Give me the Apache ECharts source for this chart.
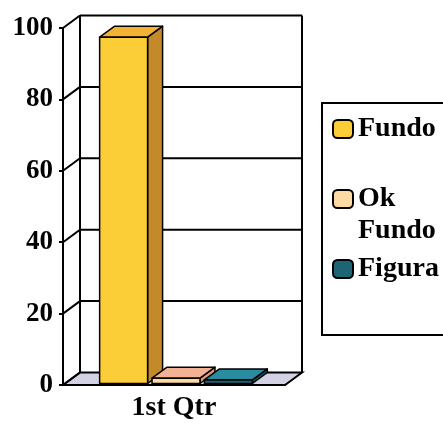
<!DOCTYPE html>
<html><head><meta charset="utf-8">
<script src="https://cdn.jsdelivr.net/npm/echarts@6/dist/echarts.min.js"></script>
<style>html,body{margin:0;padding:0;background:#fff}#c{width:443px;height:424px}</style>
</head><body><div id="c"></div>
<script>
const categories = ['1st Qtr'];
const seriesNames = ['Fundo', 'Ok Fundo', 'Figura'];
const fundoValues = [97];
const okFundoValues = [1.5];
const figuraValues = [1];
const yTicks = [0, 20, 40, 60, 80, 100];

const FONT = 'Liberation Serif';
const WALL = [17, -12.5];
const BAR_OFF = [2, -1.5];
const BAR_DEPTH = [15, -11];
const BAR_W = 0.216, BAR_GAP = 0.02;
const faces = [
  {front: '#fbcd36', top: '#f3b234', side: '#c48a2a'},
  {front: '#fdd9a4', top: '#f4b294', side: '#d99a7a'},
  {front: '#1d6474', top: '#2a8ca0', side: '#15505c'}
];
function lineStyle(w) { return {stroke: '#000', lineWidth: w || 2}; }

function frameItem(params, api) {
  const cs = params.coordSys;
  const v = api.value(1);
  const y = api.coord([0, v])[1];
  const x0 = cs.x, x1 = cs.x + cs.width;
  const dx = WALL[0], dy = WALL[1];
  const children = [];
  if (v === yTicks[0]) {
    const yTop = api.coord([0, yTicks[yTicks.length - 1]])[1];
    children.push({type: 'polygon', shape: {points: [[x0, y], [x1, y], [x1 + dx, y + dy], [x0 + dx, y + dy]]},
      style: {fill: '#d2d2e4', stroke: '#000', lineWidth: 2}});
    children.push({type: 'line', shape: {x1: x0 + dx, y1: y + dy, x2: x0 + dx, y2: yTop + dy}, style: lineStyle(2)});
    children.push({type: 'line', shape: {x1: x1 + dx, y1: y + dy, x2: x1 + dx, y2: yTop + dy}, style: lineStyle(2)});
  } else {
    children.push({type: 'line', shape: {x1: x0 + dx, y1: y + dy, x2: x1 + dx, y2: y + dy}, style: lineStyle(2)});
  }
  children.push({type: 'line', shape: {x1: x0, y1: y, x2: x0 + dx, y2: y + dy}, style: lineStyle(2)});
  return {type: 'group', children: children};
}

function barRenderer(k) {
  return function (params, api) {
    const cat = api.value(0), val = api.value(1);
    const top = api.coord([cat, val]);
    const cx = top[0];
    const yb0 = api.coord([cat, 0])[1];
    const band = api.size([1, 0])[0];
    const w = band * BAR_W, g = band * BAR_GAP;
    const n = seriesNames.length;
    const groupW = n * w + (n - 1) * g;
    const xl = cx - groupW / 2 + k * (w + g) + BAR_OFF[0];
    const xr = xl + w;
    const yt = top[1] + BAR_OFF[1], yb = yb0 + BAR_OFF[1];
    const dx = BAR_DEPTH[0], dy = BAR_DEPTH[1];
    const f = faces[k];
    return {type: 'group', children: [
      {type: 'polygon', shape: {points: [[xr, yt], [xr + dx, yt + dy], [xr + dx, yb + dy], [xr, yb]]},
        style: {fill: f.side, stroke: '#000', lineWidth: 1.5, lineJoin: 'round'}},
      {type: 'polygon', shape: {points: [[xl, yt], [xr, yt], [xr + dx, yt + dy], [xl + dx, yt + dy]]},
        style: {fill: f.top, stroke: '#000', lineWidth: 1.5, lineJoin: 'round'}},
      {type: 'rect', shape: {x: xl, y: yt, width: w, height: yb - yt},
        style: {fill: f.front, stroke: '#000', lineWidth: 1.5}}
    ]};
  };
}

const valueSets = [fundoValues, okFundoValues, figuraValues];
const barSeries = seriesNames.map(function (name, k) {
  return {
    type: 'custom', name: name, z: 3,
    data: valueSets[k].map(function (v, i) { return [i, v]; }),
    encode: {x: 0, y: 1},
    itemStyle: {color: faces[k].front},
    renderItem: barRenderer(k)
  };
});

const chart = echarts.init(document.getElementById('c'));
chart.setOption({
  backgroundColor: '#fff',
  animation: false,
  grid: {left: 63, right: 158, top: 28, bottom: 39, outerBoundsMode: 'none'},
  xAxis: {
    type: 'category', data: categories,
    axisLine: {show: true, lineStyle: {color: '#000', width: 2}},
    axisTick: {show: false},
    axisLabel: {margin: 9, color: '#000', fontFamily: FONT, fontWeight: 'bold', fontSize: 28}
  },
  yAxis: {
    type: 'value', min: 0, max: 100, interval: 20,
    axisLine: {show: true, lineStyle: {color: '#000', width: 2}},
    axisTick: {show: true, length: 4, lineStyle: {color: '#000', width: 2}},
    splitLine: {show: false},
    axisLabel: {margin: 10, color: '#000', fontFamily: FONT, fontWeight: 'bold', fontSize: 27}
  },
  legend: {
    data: seriesNames, orient: 'vertical', left: 322, top: 103,
    padding: [10, 60, 50, 10], itemGap: 6, itemWidth: 20, itemHeight: 18,
    icon: 'roundRect', borderColor: '#000', borderWidth: 2, backgroundColor: '#fff',
    itemStyle: {borderColor: '#000', borderWidth: 2},
    textStyle: {fontFamily: FONT, fontWeight: 'bold', fontSize: 28, color: '#000', lineHeight: 32},
    formatter: function (n) { return n.indexOf(' ') >= 0 ? '\n' + n.split(' ').join('\n') : n; }
  },
  series: [{
    type: 'custom', silent: true, z: 1,
    data: yTicks.map(function (v) { return [0, v]; }),
    encode: {x: 0, y: 1},
    renderItem: frameItem
  }].concat(barSeries)
});
</script></body></html>
